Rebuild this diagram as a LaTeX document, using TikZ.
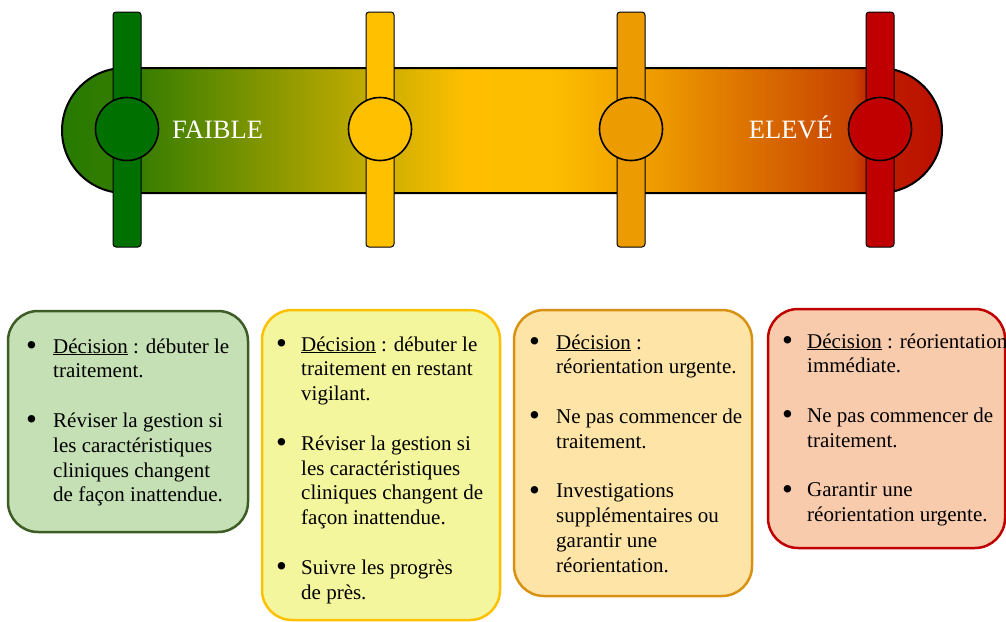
\documentclass[tikz,border=0pt]{standalone}
\usepackage{fontspec}
\setmainfont{Liberation Serif}
\usetikzlibrary{positioning}
\definecolor{riskgreen}{RGB}{0,112,0}
\definecolor{riskyellow}{RGB}{255,192,0}
\definecolor{riskorange}{RGB}{236,155,0}
\definecolor{riskred}{RGB}{192,0,0}
\definecolor{lowline}{RGB}{62,92,38}
\definecolor{lowfill}{RGB}{197,224,180}
\definecolor{midline}{RGB}{255,192,0}
\definecolor{midfill}{RGB}{244,246,158}
\definecolor{warnline}{RGB}{217,145,20}
\definecolor{warnfill}{RGB}{254,229,167}
\definecolor{highline}{RGB}{192,0,0}
\definecolor{highfill}{RGB}{248,203,173}
\pgfdeclarehorizontalshading{riskbar}{100bp}{%
  rgb(0bp)=(0.15,0.48,0); rgb(25bp)=(0.15,0.48,0); rgb(29.5bp)=(0.22,0.49,0);
  rgb(48bp)=(1,0.75,0); rgb(53bp)=(0.99,0.74,0); rgb(59bp)=(0.93,0.6,0);
  rgb(70bp)=(0.78,0.26,0); rgb(71bp)=(0.75,0.12,0); rgb(75bp)=(0.73,0.06,0);
  rgb(100bp)=(0.73,0.06,0)}
\newcommand{\blt}{\raisebox{-2.2pt}{\fontsize{31}{0}\selectfont\textbullet}}

\begin{document}
\begin{tikzpicture}[x=1pt, y=-1pt,
    bar/.style={draw, line width=1pt, rounded corners=3pt, minimum width=28pt,
                minimum height=235pt, inner sep=0pt},
    dot/.style={circle, draw, line width=1.6pt, minimum size=63pt, inner sep=0pt},
    lbl/.style={text=white, font=\fontsize{26.5}{30}\selectfont, inner sep=0pt},
    panel/.style={draw, line width=2.5pt, rounded corners=30pt, inner sep=0pt},
    notes/.style={font=\fontsize{21}{24.8}\selectfont, inner sep=0pt}]
    \useasboundingbox (0,0) rectangle (1006,621);
    \clip (0,0) rectangle (1006,621);

    % gauge
    \path[draw, line width=2pt, shading=riskbar, rounded corners=62.5pt]
        (62,68) rectangle (942,193);
    \foreach \x/\c [count=\i] in {127/riskgreen, 380/riskyellow, 631/riskorange, 880/riskred}{
        \node[bar, fill=\c] (bar\i) at (\x,129.5) {};
        \node[dot, fill=\c] (dot\i) at (\x,129) {};
    }
    \node[lbl, anchor=base west] (low) at (172,138.5) {FAIBLE};
    \node[lbl, anchor=base east] (high) at (833,138.5) {ELEVÉ};

    % decision panels
    \node[panel, draw=lowline, fill=lowfill, minimum width=240pt, minimum height=221pt]
        (box1) at (128,421.5) {};
    \node[panel, draw=midline, fill=midfill, minimum width=238pt, minimum height=310pt]
        (box2) at (381,465) {};
    \node[panel, draw=warnline, fill=warnfill, minimum width=238pt, minimum height=286pt]
        (box3) at (633,453) {};
    \node[panel, draw=highline, fill=highfill, minimum width=237pt, minimum height=239pt]
        (box4) at (886.5,428.5) {};

    \node[notes, anchor=base west] (txt1) at (26,353) {%
        \begin{tabular}[t]{@{}p{27pt}@{}l@{}}
        \blt & \underline{Décision} : débuter le\\
             & traitement.\\
             & \\
        \blt & Réviser la gestion si\\
             & les caractéristiques\\
             & cliniques changent\\
             & de façon inattendue.
        \end{tabular}};
    \node[notes, anchor=base west] (txt2) at (276,351) {%
        \begin{tabular}[t]{@{}p{25pt}@{}l@{}}
        \blt & \underline{Décision} : débuter le\\
             & traitement en restant\\
             & vigilant.\\
             & \\
        \blt & Réviser la gestion si\\
             & les caractéristiques\\
             & cliniques changent de\\
             & façon inattendue.\\
             & \\
        \blt & Suivre les progrès\\
             & de près.
        \end{tabular}};
    \node[notes, anchor=base west] (txt3) at (529,349) {%
        \begin{tabular}[t]{@{}p{27pt}@{}l@{}}
        \blt & \underline{Décision} :\\
             & réorientation urgente.\\
             & \\
        \blt & Ne pas commencer de\\
             & traitement.\\
             & \\
        \blt & Investigations\\
             & supplémentaires ou\\
             & garantir une\\
             & réorientation.
        \end{tabular}};
    \node[notes, anchor=base west] (txt4) at (782,348) {%
        \begin{tabular}[t]{@{}p{25pt}@{}l@{}}
        \blt & \underline{Décision} : réorientation\\
             & immédiate.\\
             & \\
        \blt & Ne pas commencer de\\
             & traitement.\\
             & \\
        \blt & Garantir une\\
             & réorientation urgente.
        \end{tabular}};
\end{tikzpicture}
\end{document}
